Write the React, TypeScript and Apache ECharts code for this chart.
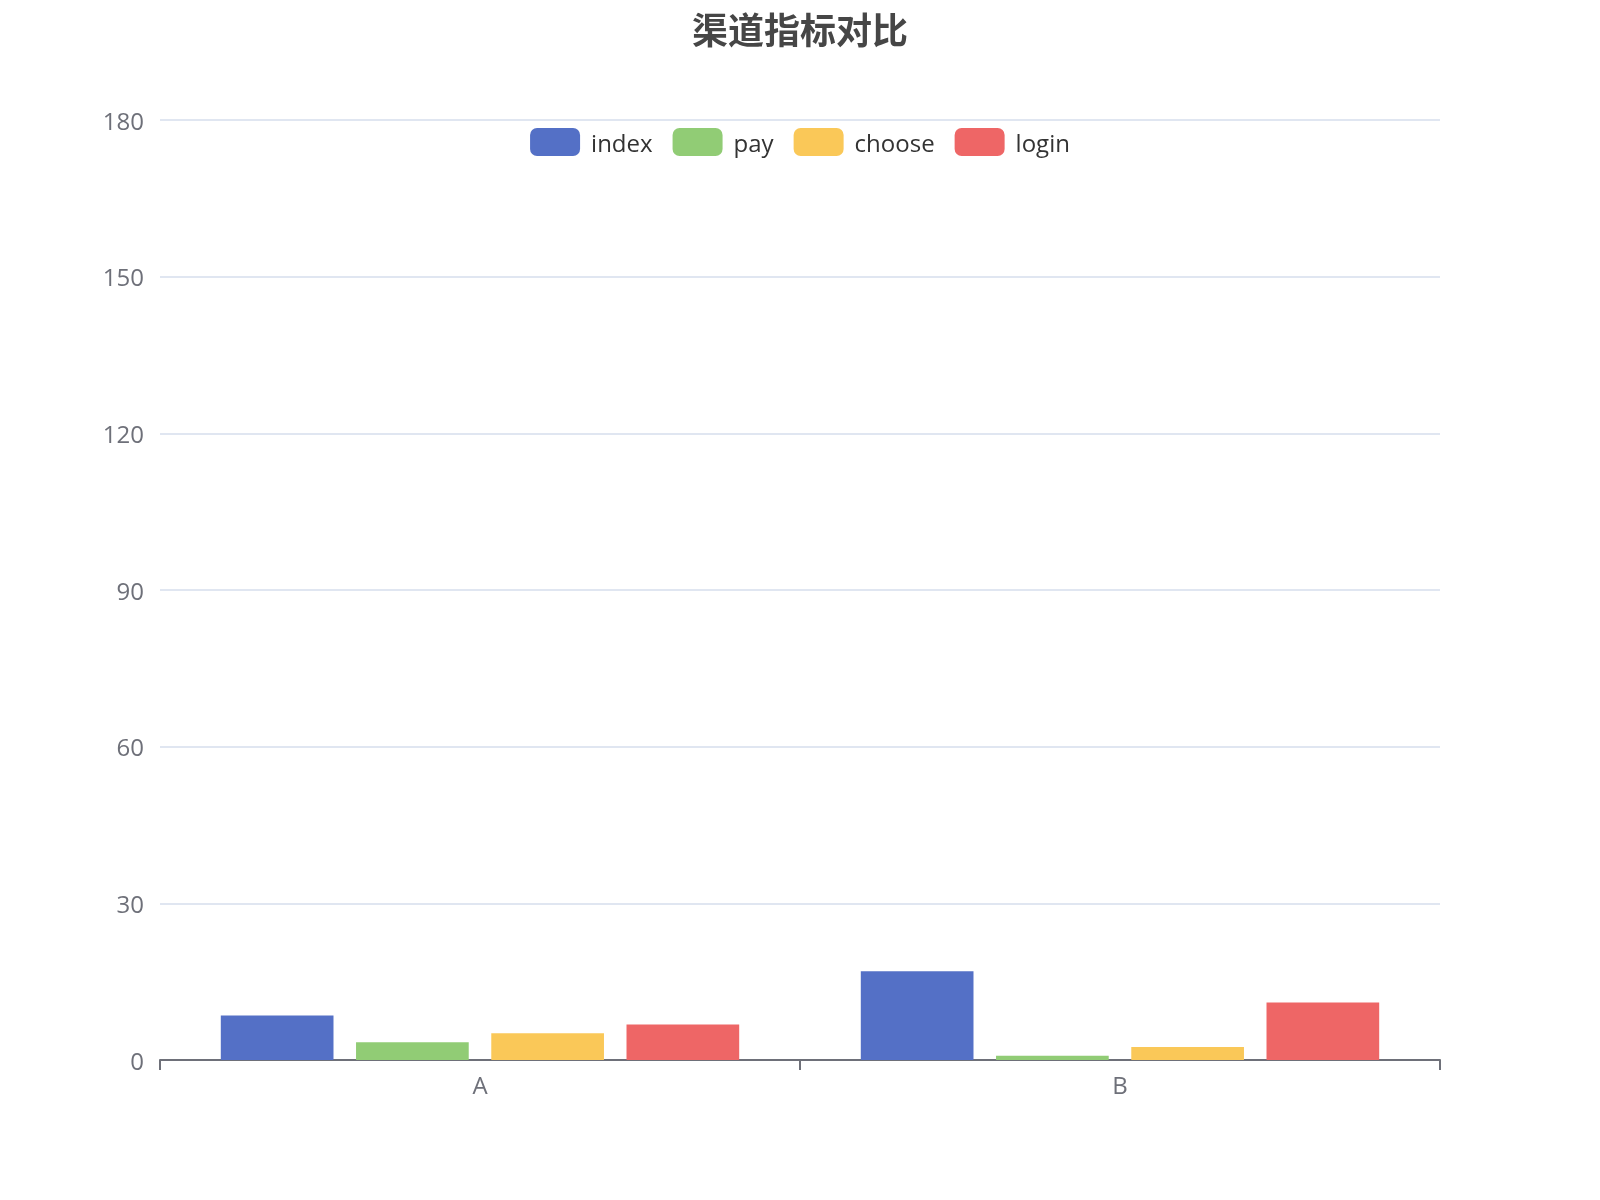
import { useEffect, useRef } from 'react';
import * as echarts from 'echarts';

const categories = ['A', 'B'];
const seriesNames = ['index', 'pay', 'choose', 'login'];
const indexValues = [8.5, 17];
const payValues = [3.4, 0.8];
const chooseValues = [5.1, 2.5];
const loginValues = [6.8, 11];
const palette = ['#5470c6', '#91cc75', '#fac858', '#ee6666'];
const yMax = 180;
const yInterval = 30;

const FONT = "'Open Sans', 'Noto Sans CJK SC', sans-serif";

const App: React.FC = () => {
  const divRef = useRef<HTMLDivElement | null>(null);

  useEffect(() => {
    if (!divRef.current) return;
    const chart = echarts.init(divRef.current, undefined, { renderer: 'svg' });

    const values = [indexValues, payValues, chooseValues, loginValues];

    chart.setOption({
      animation: false,
      color: palette,
      textStyle: { fontFamily: FONT },
      title: {
        text: '渠道指标对比',
        left: 'center',
        top: 0,
        padding: [10, 10, 10, 10],
        textStyle: {
          fontSize: 36,
          fontWeight: 'bold',
          color: '#464646',
          fontFamily: "'Noto Sans CJK SC', sans-serif",
        },
      },
      legend: {
        data: seriesNames,
        top: 118,
        padding: 10,
        itemWidth: 50,
        itemHeight: 28,
        itemGap: 20,
        textStyle: { fontSize: 24, color: '#333', fontFamily: FONT, padding: [0, 0, 2, 6] },
      },
      grid: { left: 160, right: 160, top: 120, bottom: 140 },
      xAxis: {
        type: 'category',
        data: categories,
        axisLine: { show: true, lineStyle: { width: 2, color: '#6E7079' } },
        axisTick: { show: true, length: 10, lineStyle: { width: 2, color: '#6E7079' } },
        axisLabel: { fontSize: 24, margin: 12, color: '#6E7079' },
      },
      yAxis: {
        type: 'value',
        min: 0,
        max: yMax,
        interval: yInterval,
        axisLabel: { fontSize: 24, margin: 16, color: '#6E7079' },
        splitLine: { lineStyle: { width: 2, color: '#E0E6F1' } },
      },
      series: seriesNames.map((name, i) => ({
        name,
        type: 'bar',
        data: values[i],
        barCategoryGap: '19%',
        barGap: '20%',
      })),
    });

    return () => chart.dispose();
  }, []);

  return (
    <div
      ref={divRef}
      style={{ position: 'fixed', left: 0, top: 0, width: 1600, height: 1200 }}
    />
  );
};

export default App;
